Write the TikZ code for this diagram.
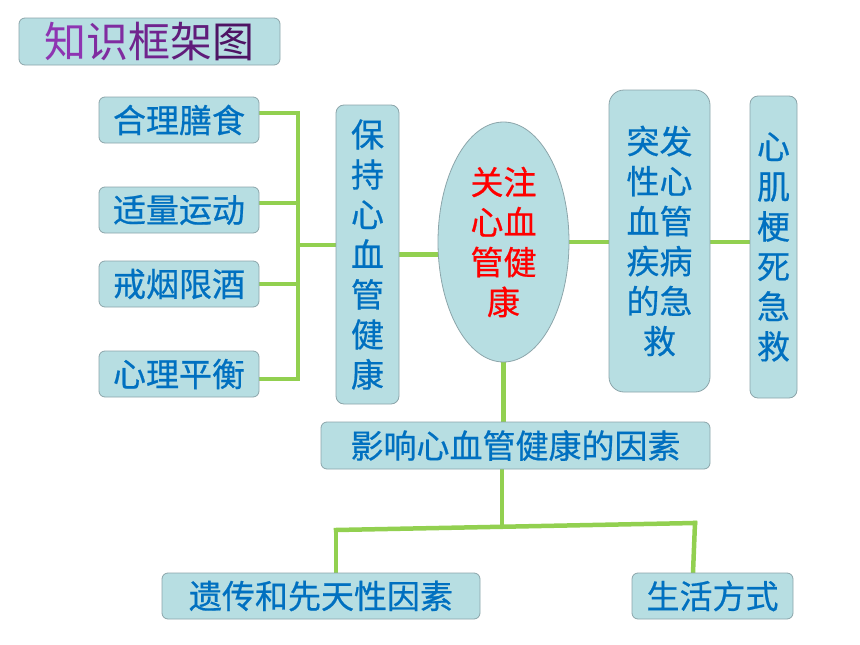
\documentclass[tikz,border=0pt]{standalone}
\usepackage{fontspec}
\newfontfamily\cjk[FakeBold=0.6]{Noto Sans CJK SC}
\newfontfamily\cjktitle{Noto Sans CJK SC}
\usetikzlibrary{shapes.geometric,backgrounds}
\definecolor{boxfill}{RGB}{183,222,226}
\definecolor{boxline}{RGB}{140,165,170}
\definecolor{txtblue}{RGB}{0,112,192}
\definecolor{lnk}{RGB}{146,208,80}
\definecolor{ta}{RGB}{142,52,178}
\definecolor{tb}{RGB}{128,44,160}
\definecolor{tc}{RGB}{112,36,142}
\definecolor{td}{RGB}{96,28,122}
\definecolor{te}{RGB}{78,20,100}
\begin{document}
\begin{tikzpicture}[x=1pt,y=-1pt,
  box/.style={draw=boxline, fill=boxfill, line width=0.8pt, rounded corners=6pt,
    inner sep=0pt, font=\cjk\fontsize{33}{40}\selectfont, text=txtblue, align=center},
  conn/.style={draw=lnk, line width=4.5pt, line cap=rect}]
\useasboundingbox (0,0) rectangle (860,645);
\node[box, minimum width=261, minimum height=47, font=\cjktitle\fontsize{42}{44}\selectfont] (title) at (149.5,41.5)
  {\textcolor{ta}{知}\textcolor{tb}{识}\textcolor{tc}{框}\textcolor{td}{架}\textcolor{te}{图}};
\node[box, minimum width=160, minimum height=46] (diet) at (179,120) {合理膳食};
\node[box, minimum width=160, minimum height=46] (exer) at (179,210) {适量运动};
\node[box, minimum width=160, minimum height=46] (smoke) at (179,284) {戒烟限酒};
\node[box, minimum width=160, minimum height=46] (mind) at (179,374) {心理平衡};
\node[box, minimum width=63, minimum height=299, rounded corners=8pt] (keep) at (367.5,254.5)
  {保\\持\\心\\血\\管\\健\\康};
\node[box, ellipse, minimum width=131, minimum height=240, text=red] (ell) at (503.5,242)
  {关注\\心血\\管健\\康};
\node[box, minimum width=101, minimum height=302, rounded corners=15pt] (sudden) at (659.5,241)
  {突发\\性心\\血管\\疾病\\的急\\救};
\node[box, minimum width=47, minimum height=302, rounded corners=8pt] (mi) at (773.5,247)
  {心\\肌\\梗\\死\\急\\救};
\node[box, minimum width=389, minimum height=47] (factors) at (515.5,445.5) {影响心血管健康的因素};
\node[box, minimum width=318, minimum height=46] (gen) at (321,596) {遗传和先天性因素};
\node[box, minimum width=161, minimum height=46] (life) at (712.5,596) {生活方式};
\coordinate (bt) at (298,113);
\coordinate (b2) at (298,203);
\coordinate (bb) at (298,379);
\coordinate (bm) at (298,245);
\coordinate (j) at (502,526);
\coordinate (L) at (336,530);
\coordinate (R) at (695,523);
\coordinate (R2) at (693,573);
\begin{scope}[on background layer]
\draw[conn] (bt) -- (bb);
\draw[conn] (diet.east |- bt) -- (bt);
\draw[conn] (exer.east |- b2) -- (b2);
\draw[conn] (smoke.east) -- (smoke.east -| bt);
\draw[conn] (mind.east |- bb) -- (bb);
\draw[conn] (bm) -- (keep.west |- bm);
\draw[conn] (keep.east) -- (ell.west |- keep.east);
\draw[conn] (ell.east) -- (sudden.west |- ell.east);
\draw[conn] (sudden.east |- ell.east) -- (mi.west |- ell.east);
\draw[conn] (ell.south) -- (ell.south |- factors.north);
\draw[conn] (factors.south -| j) -- (j);
\draw[conn] (L) -- (R);
\draw[conn] (L) -- (L |- gen.north);
\draw[conn] (R) -- (R2);
\end{scope}
\end{tikzpicture}
\end{document}
